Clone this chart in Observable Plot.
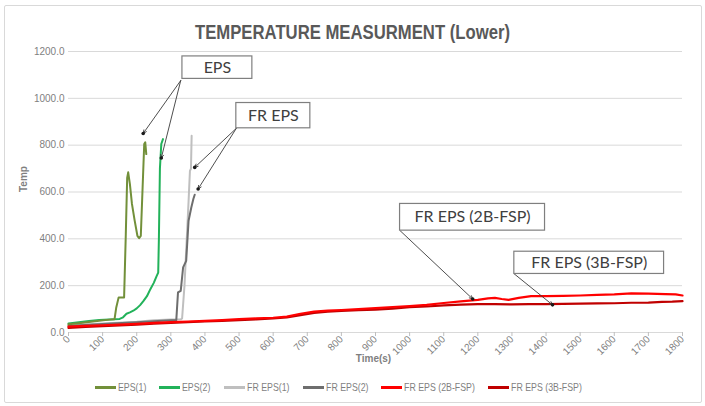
<!DOCTYPE html>
<html><head><meta charset="utf-8">
<script src="https://cdn.jsdelivr.net/npm/d3@7"></script>
<script src="https://cdn.jsdelivr.net/npm/@observablehq/plot@0.6"></script>
<style>
body{margin:0;background:#fff;}
#wrap{position:relative;width:705px;height:406px;overflow:hidden;background:#fff;}
#frame{position:absolute;left:4px;top:5px;width:698px;height:398px;border:1px solid #d9d9d9;box-sizing:border-box;border-radius:2px;}
#chart{position:absolute;left:0;top:0;}
#legend{position:absolute;left:95px;top:381px;display:flex;gap:13px;font:11px "Liberation Sans",Arial,sans-serif;color:#7f7f7f;align-items:center;white-space:nowrap;}
.item{display:flex;align-items:center;}
.sw{width:21px;height:3px;margin-right:2px;}
.lt{display:inline-block;transform:scaleX(0.8);transform-origin:left center;}
</style></head><body><div id="wrap"><div id="frame"></div><div id="chart"></div><div id="legend"></div></div>
<script>
// ---- data ----
const seriesNames = ["EPS(1)", "EPS(2)", "FR EPS(1)", "FR EPS(2)", "FR EPS (2B-FSP)", "FR EPS (3B-FSP)"];
const seriesColors = ["#72903A", "#22B25A", "#BFBFBF", "#6E6E6E", "#FF0000", "#C00000"];

const eps1Time = [0, 30, 60, 90, 120, 135, 140, 147, 163, 168, 172, 175, 180, 186, 194, 202, 207, 212, 222, 225, 228];
const eps1Temp = [35, 40, 45, 50, 55, 57, 107, 150, 150, 420, 660, 684, 634, 549, 478, 413, 403, 413, 805, 812, 762];

const eps2Time = [0, 30, 60, 90, 120, 150, 160, 170, 180, 190, 200, 210, 220, 230, 240, 250, 258, 263, 265, 268, 272, 277];
const eps2Temp = [38, 44, 49, 53, 56, 58, 65, 80, 86, 93, 103, 117, 135, 155, 185, 212, 240, 256, 400, 700, 805, 826];

const fr1Time = [0, 100, 200, 250, 300, 330, 333, 340, 346, 352, 356, 359, 361];
const fr1Temp = [30, 38, 46, 52, 56, 57, 60, 200, 380, 560, 690, 700, 840];

const fr2Time = [0, 100, 200, 250, 300, 316, 321, 329, 336, 345, 352, 360, 366, 370];
const fr2Temp = [28, 36, 44, 48, 52, 53, 171, 178, 278, 306, 477, 534, 570, 588];

const fsp2Time = [0, 50, 100, 150, 200, 250, 300, 350, 400, 450, 500, 550, 600, 640, 680, 720, 760, 800, 850, 900, 950, 1000, 1050, 1100, 1150, 1200, 1230, 1250, 1270, 1290, 1320, 1356, 1400, 1450, 1500, 1550, 1600, 1650, 1700, 1750, 1780, 1800];
const fsp2Temp = [25, 28, 31, 34, 37, 41, 44, 47, 50, 53, 57, 60, 63, 68, 80, 89, 93, 96, 100, 104, 109, 113, 118, 126, 133, 139, 146, 148, 143, 139, 148, 155, 155, 156, 158, 161, 163, 167, 166, 164, 163, 158];

const fsp3Time = [0, 50, 100, 150, 200, 250, 300, 350, 400, 450, 500, 550, 600, 640, 680, 720, 760, 800, 850, 900, 950, 1000, 1050, 1100, 1150, 1200, 1250, 1300, 1350, 1400, 1450, 1500, 1550, 1600, 1650, 1700, 1740, 1770, 1800];
const fsp3Temp = [20, 24, 27, 30, 34, 38, 41, 44, 47, 50, 53, 56, 60, 64, 74, 84, 89, 92, 95, 98, 102, 108, 111, 116, 119, 121, 121, 120, 121, 121, 122, 123, 124, 125, 127, 128, 131, 132, 134];

const xTicks = [0, 100, 200, 300, 400, 500, 600, 700, 800, 900, 1000, 1100, 1200, 1300, 1400, 1500, 1600, 1700, 1800];
const yTicks = [0, 200, 400, 600, 800, 1000, 1200];

// annotation callouts (data coordinates)
const boxLabels = ["EPS", "FR EPS", "FR EPS (2B-FSP)", "FR EPS (3B-FSP)"];
const boxT1 = [334, 492, 972, 1307];
const boxT2 = [539, 709, 1397, 1746];
const boxTop = [1179, 980, 549, 345];
const boxBottom = [1083, 872, 435, 250];
const arrowFromT = [329, 329, 492, 492, 972, 1307];
const arrowFromTemp = [1076, 1076, 872, 872, 435, 250];
const arrowToT = [219, 272, 370, 380, 1185, 1419];
const arrowToTemp = [850, 745, 705, 613, 143, 118];

const titleText = "TEMPERATURE MEASURMENT (Lower)";

// ---- build tables ----
const seriesTimes = [eps1Time, eps2Time, fr1Time, fr2Time, fsp2Time, fsp3Time];
const seriesTemps = [eps1Temp, eps2Temp, fr1Temp, fr2Temp, fsp2Temp, fsp3Temp];
const rows = [];
seriesNames.forEach((name, i) => {
  seriesTimes[i].forEach((t, j) => rows.push({series: name, time: t, temp: seriesTemps[i][j]}));
});
const boxes = boxLabels.map((label, i) => ({label, t1: boxT1[i], t2: boxT2[i], y1: boxTop[i], y2: boxBottom[i]}));
const arrows = arrowFromT.map((t, i) => ({x1: t, y1: arrowFromTemp[i], x2: arrowToT[i], y2: arrowToTemp[i]}));

const sans = '"Liberation Sans",Arial,sans-serif';
const drawOrder = ["FR EPS(1)", "FR EPS(2)", "EPS(2)", "EPS(1)", "FR EPS (3B-FSP)", "FR EPS (2B-FSP)"];

const chart = Plot.plot({
  width: 705,
  height: 406,
  marginLeft: 68,
  marginRight: 23,
  marginTop: 51,
  marginBottom: 74,
  style: {background: "transparent", fontFamily: sans, fontSize: "10px", overflow: "visible"},
  x: {domain: [0, 1800]},
  y: {domain: [0, 1200]},
  color: {domain: seriesNames, range: seriesColors},
  marks: [
    Plot.gridY(yTicks, {stroke: "#d9d9d9", strokeOpacity: 1}),
    Plot.axisY({ticks: yTicks, tickFormat: d3.format(".1f"), tickSize: 0, tickPadding: 4, fill: "#7f7f7f", label: null}),
    Plot.axisX({ticks: xTicks, tickFormat: d3.format("d"), tickSize: 4, tickPadding: 1, tickRotate: -45, stroke: "#bfbfbf", fill: "#7f7f7f", label: null}),
    ...drawOrder.map(name => Plot.line(rows.filter(d => d.series === name), {
      x: "time", y: "temp", stroke: "series", strokeWidth: name.includes("FSP") ? 2.2 : 2, curve: "linear"
    })),
    Plot.arrow(arrows, {x1: "x1", y1: "y1", x2: "x2", y2: "y2", stroke: "#3a3a3a", strokeWidth: 0.9, headLength: 6, headAngle: 50, insetEnd: 0}),
    Plot.dot(arrows, {x: "x2", y: "y2", r: 1.8, fill: "#1a1a1a"}),
    Plot.rect(boxes, {x1: "t1", x2: "t2", y1: "y1", y2: "y2", fill: "white", stroke: "#7f7f7f", strokeWidth: 1.2}),
    Plot.text(boxes, {x: d => (d.t1 + d.t2) / 2, y: d => (d.y1 + d.y2) / 2, text: "label", fontFamily: "Lato, 'Open Sans', sans-serif", fontSize: 16, fill: "#404040"}),
    Plot.text([titleText], {frameAnchor: "top", dy: -27, dx: -23, text: d => d, fontSize: 20, fontWeight: "bold", fill: "#595959", fontFamily: sans}),
    Plot.text(["Temp"], {frameAnchor: "left", dx: -45, dy: 0, rotate: -90, text: d => d, fontSize: 10, fontWeight: "bold", fill: "#7f7f7f", fontFamily: sans}),
    Plot.text(["Time(s)"], {frameAnchor: "bottom", dy: 29, dx: -2, text: d => d, fontSize: 10, fontWeight: "bold", fill: "#7f7f7f", fontFamily: sans})
  ]
});
document.getElementById("chart").appendChild(chart);

// condense the title to the reference width
chart.querySelectorAll("text").forEach(t => {
  if (t.textContent === titleText) {
    t.setAttribute("textLength", 315);
    t.setAttribute("lengthAdjust", "spacingAndGlyphs");
  }
});

const legend = document.getElementById("legend");
seriesNames.forEach((name, i) => {
  const item = document.createElement("div");
  item.className = "item";
  const sw = document.createElement("span");
  sw.className = "sw";
  sw.style.background = seriesColors[i];
  const tx = document.createElement("span");
  tx.className = "lt";
  tx.textContent = name;
  item.appendChild(sw); item.appendChild(tx);
  legend.appendChild(item);
  const w = tx.offsetWidth;
  tx.style.marginRight = (-w * 0.2) + "px";
});
</script></body></html>
